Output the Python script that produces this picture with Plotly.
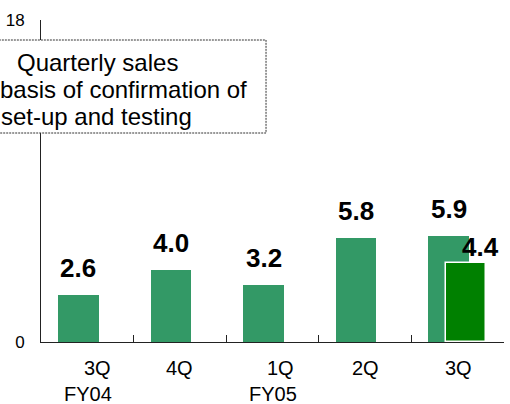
import plotly.graph_objects as go

# ---- data ----
quarters = ["3Q", "4Q", "1Q", "2Q", "3Q"]
fiscal_years = ["FY04", "", "FY05", "", ""]
sales_shipment = [2.6, 4.0, 3.2, 5.8, 5.9]
sales_new_basis = [None, None, None, None, 4.4]
y_ticks = [0, 18]
box_lines = ["Quarterly sales", "basis of confirmation of", "set-up and testing"]

FONT = "Arial, Liberation Sans, sans-serif"
LIGHT = "#339966"
DARK = "#008000"

x = list(range(len(quarters)))

fig = go.Figure()
fig.add_trace(go.Bar(
    x=x, y=sales_shipment, width=0.44, offset=-0.317,
    marker=dict(color=LIGHT, line=dict(width=0)), showlegend=False,
))
fig.add_trace(go.Bar(
    x=x, y=sales_new_basis, width=0.43, offset=-0.124,
    marker=dict(color=DARK, line=dict(width=1.5, color="white")), showlegend=False,
))

annotations = []
# value labels
for i, v in enumerate(sales_shipment):
    annotations.append(dict(
        x=i - 0.317 + 0.22, y=v, xref="x", yref="y", text=f"{v:.1f}",
        showarrow=False, yanchor="middle", yshift=27,
        font=dict(family=FONT, size=26, color="black", weight="bold"),
    ))
for i, v in enumerate(sales_new_basis):
    if v is None:
        continue
    annotations.append(dict(
        x=i - 0.124 + 0.215, y=v, xref="x", yref="y", text=f"{v:.1f}",
        showarrow=False, yanchor="middle", yshift=16, xshift=14,
        font=dict(family=FONT, size=26, color="black", weight="bold"),
    ))

# category labels
q_shift = [10.5, 0, 7.5, 0, 0.5]
fy_shift = [0.5, 0, 0.5, 0, 0]
for i, (q, fy) in enumerate(zip(quarters, fiscal_years)):
    annotations.append(dict(
        x=i, y=0, xref="x", yref="paper", text=q, showarrow=False,
        yanchor="middle", yshift=-26, xshift=q_shift[i],
        font=dict(family=FONT, size=20, color="black"),
    ))
    if fy:
        annotations.append(dict(
            x=i, y=0, xref="x", yref="paper", text=fy, showarrow=False,
            yanchor="middle", yshift=-52, xshift=fy_shift[i],
            font=dict(family=FONT, size=20, color="black"),
        ))

# text box
W_PLOT = 465.0
H_PLOT = 322.0
def px_x(p):
    return (p - 39) / W_PLOT
def px_y(p):
    return (342 - p) / H_PLOT

for j, line in enumerate(box_lines):
    annotations.append(dict(
        x=px_x([13, -4, -3][j]), y=px_y(62 + 27.5 * j), xref="paper", yref="paper",
        text=line, showarrow=False, xanchor="left", yanchor="middle",
        font=dict(family=FONT, size=24, color="black"),
    ))

shapes = [dict(
    type="rect", xref="paper", yref="paper",
    x0=px_x(-5), x1=px_x(265), y0=px_y(133), y1=px_y(40),
    line=dict(color="#333333", width=1, dash="2px,1px"), fillcolor="white", layer="above",
)]

fig.update_layout(
    width=510, height=404,
    margin=dict(l=39, r=6, t=20, b=62),
    paper_bgcolor="white", plot_bgcolor="white",
    barmode="overlay", bargap=0,
    annotations=annotations, shapes=shapes,
    font=dict(family=FONT, color="black"),
    xaxis=dict(
        range=[-0.5, 4.5], showgrid=False, zeroline=False,
        showline=True, linecolor="#222", linewidth=1,
        tickmode="array", tickvals=[0.5, 1.5, 2.5, 3.5, 4.5], ticktext=["", "", "", "", ""],
        ticks="inside", ticklen=7, tickcolor="#222", tickwidth=1,
    ),
    yaxis=dict(
        range=[0, 18], showgrid=False, zeroline=False,
        showline=True, linecolor="#222", linewidth=1,
        tickmode="array", tickvals=y_ticks,
        ticks="inside", ticklen=5, tickcolor="#222", tickwidth=1,
        tickfont=dict(family=FONT, size=17, color="black"),
        ticklabelstandoff=12,
    ),
)

fig.write_html("out.html", config={"displayModeBar": False},
               post_script="document.body.style.margin='0';")
